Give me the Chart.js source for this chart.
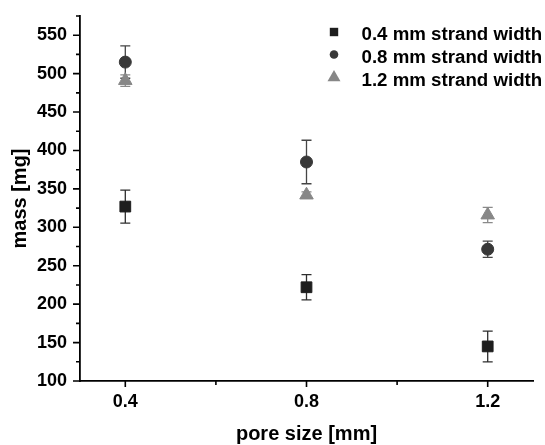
<!DOCTYPE html>
<html>
<head>
<meta charset="utf-8">
<script src="https://cdn.jsdelivr.net/npm/chart.js@4/dist/chart.umd.min.js"></script>
<style>
  html, body { margin: 0; padding: 0; background: #ffffff; }
  #wrap { width: 545px; height: 445px; }
</style>
</head>
<body>
<div id="wrap"><canvas id="c" width="545" height="445"></canvas></div>
<script>
// ---- data ----
const poreSize = [0.4, 0.8, 1.2];
const seriesLabels = ['0.4 mm strand width', '0.8 mm strand width', '1.2 mm strand width'];
const mass04 = [327, 222, 145];
const err04 = [21.5, 16.5, 20];
const mass08 = [515, 385, 271.5];
const err08 = [21, 28.3, 10.5];
const mass12 = [491, 342, 316];
const err12 = [7.5, 4, 10];
const xTicks = [0.4, 0.8, 1.2];
const xMinorTicks = [0.6, 1.0];
const yTicks = [100, 150, 200, 250, 300, 350, 400, 450, 500, 550];
const yMinorTicks = [125, 175, 225, 275, 325, 375, 425, 475, 525, 575];

const FONT = "'Liberation Sans', Arial, Helvetica, sans-serif";

function pts(ys) { return poreSize.map((x, i) => ({ x: x, y: ys[i] })); }

const styles = [
  { fill: '#1e1e1e', err: '#2e2e2e', shape: 'rect', r: 7.6 },
  { fill: '#383838', err: '#454545', shape: 'circle', r: 6 },
  { fill: '#878787', err: '#8a8a8a', shape: 'triangle', r: 7.8 }
];
const errs = [err04, err08, err12];

const errorBars = {
  id: 'errorBars',
  beforeDatasetsDraw(chart) {
    const ctx = chart.ctx, xs = chart.scales.x, ys = chart.scales.y;
    chart.data.datasets.forEach((ds, di) => {
      ctx.save();
      ctx.strokeStyle = styles[di].err;
      ctx.lineWidth = 1.3;
      ds.data.forEach((p, i) => {
        const e = errs[di][i];
        const px = xs.getPixelForValue(p.x);
        const yt = ys.getPixelForValue(p.y + e);
        const yb = ys.getPixelForValue(p.y - e);
        ctx.beginPath();
        ctx.moveTo(px, yt); ctx.lineTo(px, yb);
        ctx.moveTo(px - 5, yt); ctx.lineTo(px + 5, yt);
        ctx.moveTo(px - 5, yb); ctx.lineTo(px + 5, yb);
        ctx.stroke();
      });
      ctx.restore();
    });
  }
};

const tickMarks = {
  id: 'tickMarks',
  afterDraw(chart) {
    const ctx = chart.ctx, xs = chart.scales.x, ys = chart.scales.y, a = chart.chartArea;
    ctx.save();
    ctx.strokeStyle = '#000';
    ctx.lineWidth = 1.6;
    ctx.beginPath();
    yTicks.forEach(v => { const y = ys.getPixelForValue(v); ctx.moveTo(a.left, y); ctx.lineTo(a.left - 7, y); });
    yMinorTicks.forEach(v => { const y = ys.getPixelForValue(v); ctx.moveTo(a.left, y); ctx.lineTo(a.left - 4, y); });
    xTicks.forEach(v => { const x = xs.getPixelForValue(v); ctx.moveTo(x, a.bottom); ctx.lineTo(x, a.bottom + 6); });
    xMinorTicks.forEach(v => { const x = xs.getPixelForValue(v); ctx.moveTo(x, a.bottom); ctx.lineTo(x, a.bottom + 4); });
    ctx.stroke();
    ctx.restore();
  }
};

const legendBox = {
  id: 'legendBox',
  afterDraw(chart) {
    const ctx = chart.ctx;
    const symX = 334, textX = 361.5;
    const symY = [32, 54.5, 77.5];
    const baseY = [40, 63, 86];
    ctx.save();
    chart.data.datasets.forEach((ds, i) => {
      const s = styles[i];
      ctx.fillStyle = s.fill;
      ctx.beginPath();
      if (s.shape === 'rect') {
        ctx.rect(symX - 4.2, symY[i] - 4.2, 8.4, 8.4);
      } else if (s.shape === 'circle') {
        ctx.arc(symX, symY[i], 4.3, 0, Math.PI * 2);
      } else {
        const r = 7.5;
        ctx.moveTo(symX, symY[i] - r);
        ctx.lineTo(symX + r * 0.866, symY[i] + r / 2);
        ctx.lineTo(symX - r * 0.866, symY[i] + r / 2);
        ctx.closePath();
      }
      ctx.fill();
      ctx.fillStyle = '#000';
      ctx.font = 'bold 18.7px ' + FONT;
      ctx.textAlign = 'left';
      ctx.textBaseline = 'alphabetic';
      ctx.fillText(ds.label, textX, baseY[i]);
    });
    ctx.restore();
  }
};

const datasets = [mass04, mass08, mass12].map((m, i) => ({
  label: seriesLabels[i],
  data: pts(m),
  pointStyle: styles[i].shape,
  pointRadius: styles[i].r,
  pointHoverRadius: styles[i].r,
  backgroundColor: styles[i].fill,
  borderColor: styles[i].fill,
  borderWidth: 1,
  showLine: false
}));

new Chart(document.getElementById('c'), {
  type: 'scatter',
  data: { datasets: datasets },
  options: {
    responsive: false,
    animation: false,
    events: [],
    layout: { autoPadding: false, padding: { left: 0, right: 12, top: 16, bottom: 0 } },
    plugins: { legend: { display: false }, tooltip: { enabled: false } },
    scales: {
      x: {
        type: 'linear',
        min: 0.3, max: 1.3,
        afterBuildTicks: s => { s.ticks = xTicks.map(v => ({ value: v })); },
        afterFit: s => { s.height = 64; s.paddingLeft = 0; s.paddingRight = 0; s.paddingTop = 0; s.paddingBottom = 0; },
        grid: { display: false, drawTicks: false },
        border: { display: true, color: '#000', width: 1.8 },
        ticks: { color: '#000', padding: 10, maxRotation: 0, autoSkip: false,
                 font: { family: FONT, size: 18, weight: 'bold' },
                 callback: v => v.toFixed(1) },
        title: { display: true, text: 'pore size [mm]', color: '#000',
                 padding: { top: 0, bottom: 0 },
                 font: { family: FONT, size: 20, weight: 'bold', lineHeight: 1.05 } }
      },
      y: {
        type: 'linear',
        min: 100, max: 575,
        afterBuildTicks: s => { s.ticks = yTicks.map(v => ({ value: v })); },
        afterFit: s => { s.width = 80; s.paddingLeft = 0; s.paddingRight = 0; s.paddingTop = 0; s.paddingBottom = 0; },
        grid: { display: false, drawTicks: false },
        border: { display: true, color: '#000', width: 1.8 },
        ticks: { color: '#000', padding: 13, autoSkip: false,
                 font: { family: FONT, size: 18, weight: 'bold' } },
        title: { display: true, text: 'mass [mg]', color: '#000',
                 padding: { top: 10, bottom: 0 },
                 font: { family: FONT, size: 20, weight: 'bold', lineHeight: 1.05 } }
      }
    }
  },
  plugins: [errorBars, tickMarks, legendBox]
});
</script>
</body>
</html>
